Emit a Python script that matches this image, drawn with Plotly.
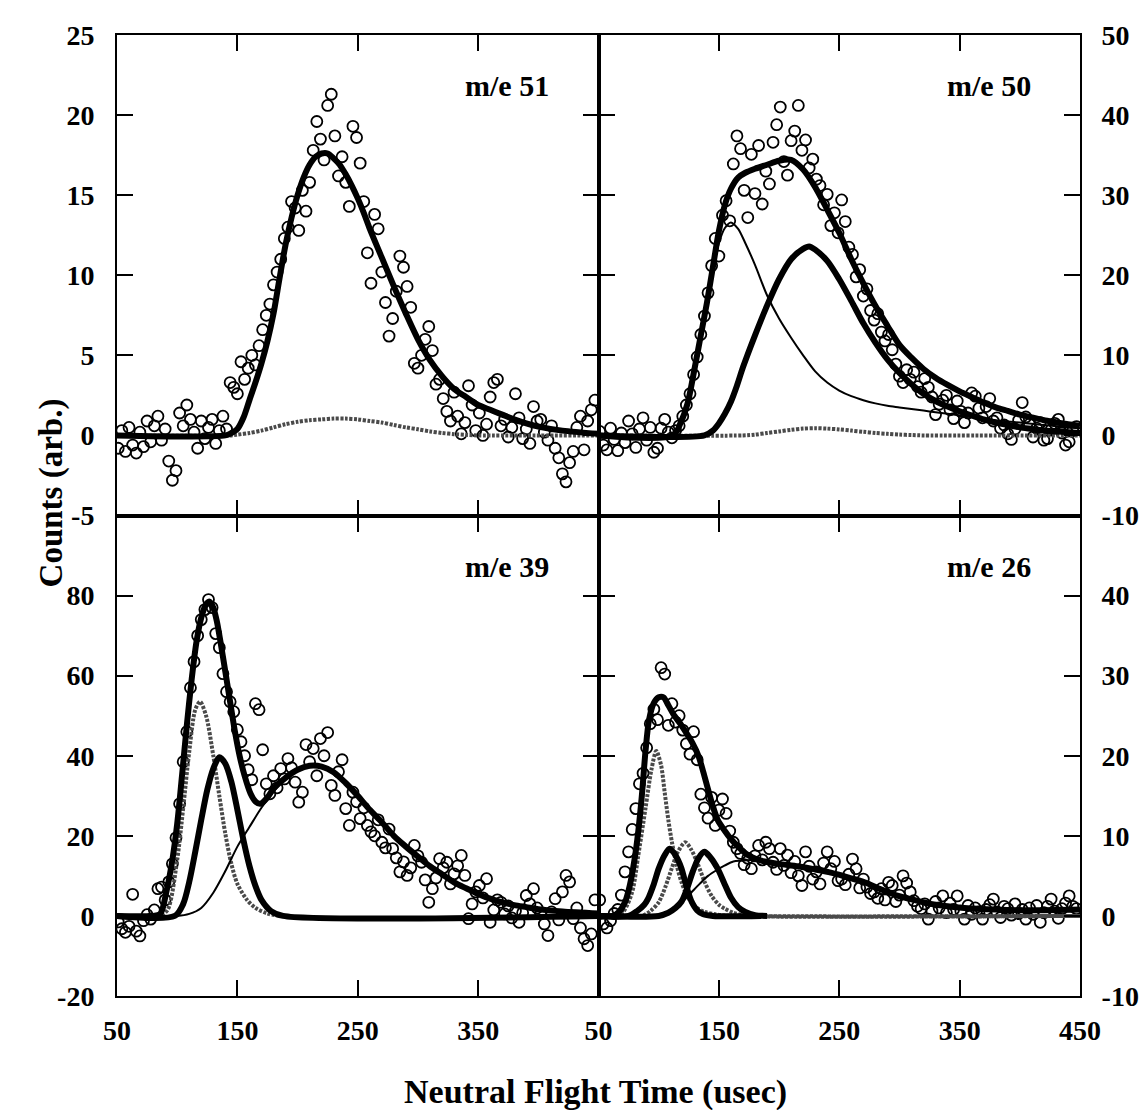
import plotly.graph_objects as go
from plotly.subplots import make_subplots

# measured points, every 3 usec from 51 to 447
time_us = list(range(51, 448, 3))

counts_me51 = [
    -0.8, 0.3, -1.0, 0.5, -0.6, -1.1, 0.2, -0.7, 0.9, -0.4,
    0.6, 1.2, -0.3, 0.4, -1.6, -2.8, -2.2, 1.4, 0.6, 1.9,
    1.0, 0.2, -0.8, 0.9, -0.2, 0.5, 1.0, -0.5, 0.3, 1.2,
    0.4, 3.3, 3.0, 2.6, 4.6, 3.5, 4.2, 5.0, 4.4, 5.6,
    6.6, 7.5, 8.2, 9.4, 10.2, 11.0, 12.3, 13.0, 14.6, 14.2,
    12.8, 15.3, 14.0, 15.8, 17.8, 19.6, 18.5, 17.2, 20.6, 21.3,
    18.7, 16.2, 17.4, 15.8, 14.3, 19.3, 18.6, 17.0, 14.6, 11.4,
    9.5, 13.8, 12.9, 10.2, 8.3, 6.2, 7.3, 9.0, 11.2, 10.5,
    9.3, 8.0, 4.5, 4.2, 5.0, 6.0, 6.8, 5.3, 3.2, 3.5,
    2.3, 1.5, 0.9, 2.7, 1.2, 0.1, 0.8, 3.1, 1.9, 0.3,
    1.4, 0.0, 0.7, 2.4, 3.3, 3.5, 0.6, 1.0, -0.1, 0.5,
    2.6, 1.1, -0.2, 0.4, -0.5, 1.8, 0.9, 1.0, 0.2, -0.3,
    0.6, -0.8, -1.4, -2.4, -2.9, -1.7, -1.0, 0.5, 1.2, -0.9,
    0.9, 1.6, 2.2,
]

counts_me50 = [
    0.5, -1.2, -1.8, 0.9, -0.5, -1.9, 0.3, -0.9, 1.8, 0.2,
    -1.5, 0.8, 2.2, -0.6, 1.0, -2.1, -1.6, 0.9, 2.0, 0.4,
    -0.3, 0.6, 1.2, 2.4, 3.8, 5.2, 7.6, 9.8, 12.6, 14.9,
    17.8, 21.2, 24.6, 22.4, 27.5, 29.3, 26.8, 33.9, 37.4, 35.8,
    30.6, 27.2, 35.1, 30.2, 36.2, 28.9, 33.0, 31.4, 36.6, 38.8,
    41.0, 34.2, 32.5, 36.8, 38.0, 41.2, 35.6, 36.9, 33.4, 34.5,
    32.0, 31.2, 28.8, 30.1, 26.2, 27.8, 25.3, 29.4, 26.7, 23.5,
    22.6, 19.8, 20.7, 17.4, 18.3, 15.6, 14.4, 15.2, 12.9, 11.8,
    12.6, 10.7, 8.9, 7.4, 6.6, 8.2, 7.0, 7.9, 6.1, 5.4,
    7.1, 6.0, 4.8, 2.6, 3.9, 4.4, 5.0, 3.2, 2.1, 4.3,
    3.0, 1.6, 2.8, 5.3, 4.9, 3.4, 2.2, 3.6, 4.6, 1.8,
    2.2, 0.9, 1.3, 0.2, -0.5, 0.8, 1.9, 4.1, 2.3, 1.4,
    -0.2, 0.9, 1.6, -0.6, -0.4, 0.7, 1.5, 2.0, 0.3, -1.2,
    -0.8, 0.6, 1.1,
]

counts_me39 = [
    -1.5, -3.2, -4.1, -2.6, 5.4, -3.8, -5.0, -1.2, 0.3, -0.8,
    1.5, 6.8, 7.2, 4.0, 8.5, 13.0, 19.5, 28.0, 38.5, 46.0,
    57.0, 63.5, 70.0, 74.0, 76.5, 79.0, 77.0, 70.5, 67.0, 60.5,
    56.0, 53.5, 51.0, 46.5, 43.5, 40.0, 36.5, 34.0, 53.0, 51.5,
    41.5, 33.0, 30.5, 35.0, 32.0, 36.8, 34.2, 39.3, 37.0, 33.4,
    28.4, 30.9, 42.8, 38.5, 41.8, 35.0, 44.3, 40.0, 45.8, 32.6,
    30.1, 36.0, 39.0, 26.8, 22.6, 30.9, 28.5, 24.3, 27.0, 22.6,
    21.0, 20.0, 24.0, 18.4, 17.0, 21.7, 16.8, 14.5, 11.0, 13.5,
    10.1, 12.0, 17.6, 15.0, 13.4, 9.0, 3.4, 6.8, 9.5, 14.3,
    12.0, 13.4, 8.0, 10.5, 12.5, 15.1, 10.1, -0.7, 3.0, 6.0,
    7.6, 4.5, 9.3, -1.6, 1.5, 4.0, 3.4, 0.5, 2.5, -0.5,
    1.2, -1.6, 0.8, 5.1, 3.0, 6.8, 2.0, 0.5, -2.0, -4.9,
    1.0, 4.3, -1.0, 6.0, 10.1, 8.5, -0.7, 2.0, -3.0, -5.7,
    -7.4, -4.5, 4.0,
]

counts_me26 = [
    2.0, -1.0, -1.5, -0.6, 0.3, 0.8, 2.6, 5.5, 8.0, 10.8,
    13.4, 16.5, 17.8, 21.0, 24.0, 25.8, 24.5, 31.0, 30.2, 23.8,
    26.5, 24.2, 25.0, 23.2, 21.5, 20.2, 23.0, 19.5, 15.2, 13.5,
    12.2, 14.8, 11.3, 13.2, 14.6, 12.8, 10.6, 9.2, 8.4, 7.8,
    6.4, 7.2, 5.9, 7.5, 8.8, 7.0, 9.2, 8.4, 6.7, 5.8,
    8.4, 6.3, 7.6, 5.4, 6.8, 5.0, 3.8, 8.0, 6.2, 4.6,
    5.5, 4.0, 6.6, 8.0, 5.9, 6.8, 4.4, 4.6, 3.9, 5.2,
    7.1, 5.9, 3.5, 4.6, 3.6, 2.8, 3.0, 2.2, 3.4, 2.0,
    4.2, 3.8, 1.8, 2.6, 5.0, 4.1, 3.0, 1.9, 1.2, 0.9,
    1.5, -0.4, 0.6, 1.8, 1.0, 2.5, 0.4, 1.6, 0.8, 2.5,
    0.6, -0.4, 1.3, 0.2, 1.0, 0.5, -0.4, 0.8, 1.4, 2.1,
    0.5, -0.2, 1.2, 0.9, 0.1, 1.5, 0.3, 0.8, -0.4, 1.0,
    0.2, 1.3, -0.8, 0.4, 1.2, 2.1, 0.6, -0.3, 0.9, 1.6,
    2.5, 1.2, 0.9,
]

fit51_total_t = [50, 140, 145, 150, 155, 160, 165, 170, 175, 180, 185, 190, 195, 200,
                 205, 210, 215, 220, 225, 230, 235, 240, 245, 250, 255, 260, 270, 280,
                 290, 300, 310, 320, 330, 340, 350, 360, 370, 380, 390, 400, 420, 450]
fit51_total = [0, 0, 0.15, 0.4, 1.1, 2.2, 3.3, 4.5, 5.9, 7.6, 9.8, 11.9, 13.6, 15.0,
               16.1, 16.9, 17.4, 17.6, 17.6, 17.3, 16.9, 16.3, 15.6, 14.8, 13.9, 12.9, 11.1, 9.3,
               7.6, 6.0, 4.7, 3.7, 2.9, 2.4, 1.9, 1.6, 1.3, 1.0, 0.75, 0.55, 0.3, 0.1]
fit51_small_t = [50, 145, 150, 160, 170, 180, 190, 200, 210, 220, 230, 240,
                 250, 260, 270, 280, 290, 300, 310, 320, 330, 340, 350, 450]
fit51_small = [0, 0, 0.05, 0.15, 0.3, 0.5, 0.7, 0.85, 0.95, 1.0, 1.05, 1.05,
               1.0, 0.9, 0.8, 0.65, 0.5, 0.38, 0.25, 0.15, 0.08, 0.03, 0, 0]

fit50_total_t = [50, 112, 118, 124, 130, 135, 140, 145, 150, 155, 160, 166, 172, 180,
                 190, 200, 210, 220, 230, 240, 250, 260, 270, 280, 290, 300, 310, 320,
                 330, 340, 350, 360, 370, 380, 390, 400, 410, 420, 430, 440, 450]
fit50_total = [0, 0, 1.5, 4.0, 8.5, 12.5, 16.5, 21.0, 25.5, 28.8, 30.8, 32.2, 32.8, 33.3,
               33.8, 34.3, 34.4, 33.2, 31.0, 28.2, 25.3, 22.0, 19.0, 16.2, 13.7, 11.3, 9.7, 8.3,
               7.2, 6.3, 5.5, 4.8, 4.1, 3.5, 3.05, 2.6, 2.25, 1.9, 1.65, 1.4, 1.2]
fit50_fast = [0, 0, 1.5, 4.0, 8.5, 12.5, 16.4, 20.4, 24.0, 25.9, 26.6, 25.8, 24.0, 21.3,
              17.5, 14.6, 12.2, 10.0, 8.0, 6.6, 5.6, 4.9, 4.4, 4.0, 3.7, 3.5, 3.3, 3.1,
              2.9, 2.7, 2.5, 2.3, 2.1, 1.9, 1.75, 1.6, 1.45, 1.3, 1.15, 1.0, 0.9]
fit50_slow_t = [50, 138, 145, 150, 155, 160, 165, 170, 180, 190, 200, 210, 220, 225,
                230, 240, 250, 260, 270, 280, 290, 300, 310, 320, 330, 340, 350, 360,
                370, 380, 390, 400, 410, 420, 430, 440, 450]
fit50_slow = [0, 0, 0.6, 1.5, 2.7, 4.2, 6.2, 8.5, 12.5, 16.2, 19.5, 22.0, 23.3, 23.6,
              23.2, 21.8, 19.5, 16.8, 14.0, 11.6, 9.5, 7.8, 6.4, 5.2, 4.3, 3.6, 3.0, 2.5,
              2.0, 1.6, 1.3, 1.0, 0.8, 0.6, 0.5, 0.4, 0.3]
fit50_small_t = [50, 170, 180, 190, 200, 210, 220, 230, 240, 250, 260, 270, 280, 290,
                 300, 310, 320, 450]
fit50_small = [0, 0, 0.1, 0.3, 0.5, 0.7, 0.85, 0.9, 0.85, 0.75, 0.6, 0.45, 0.3, 0.2,
               0.1, 0.05, 0, 0]

fit39_total_t = [50, 80, 86, 91, 96, 100, 104, 108, 112, 116, 120, 124, 127, 130, 133,
                 136, 140, 144, 148, 152, 156, 161, 165, 169, 175, 180, 190, 200, 210,
                 220, 230, 240, 250, 260, 270, 280, 290, 300, 310, 320, 330, 340, 350,
                 360, 370, 380, 390, 400, 420, 450]
fit39_total = [0, 0, 0.5, 6, 14, 23, 35, 47.6, 59, 68.4, 74.5, 77.8, 78.5, 77, 73.5,
               68.4, 61, 53.4, 46, 39.8, 35, 30.5, 28.6, 28, 29.6, 31.8, 34.5, 36.5, 37.5,
               37.3, 35.9, 33.2, 30.0, 26.5, 23.4, 20.0, 17.3, 14.8, 12.4, 10.4, 8.4, 6.9, 5.5,
               4.3, 3.4, 2.7, 2.2, 1.7, 1.1, 0.6]
fit39_slow_t = [50, 100, 110, 120, 130, 140, 150, 160, 170, 180, 190, 200, 210, 220,
                230, 240, 250, 260, 270, 280, 290, 300, 310, 320, 330, 340, 350, 360,
                370, 380, 390, 400, 420, 450]
fit39_slow = [0, 0, 0.5, 2.0, 5.8, 11.2, 17.3, 22.2, 27.0, 31.0, 34.3, 36.4, 37.5, 37.3,
              35.9, 33.2, 30.0, 26.5, 23.4, 20.0, 17.3, 14.8, 12.4, 10.4, 8.4, 6.9, 5.5, 4.3,
              3.4, 2.7, 2.2, 1.7, 1.1, 0.6]
fit39_mid_t = [50, 98, 105, 110, 115, 120, 125, 130, 135, 140, 145, 150, 155, 160, 165,
               170, 178, 188, 450]
fit39_mid = [0, 0, 3, 8.5, 16, 24, 31.5, 36.8, 39.6, 38, 33.5, 26.5, 19, 12.5, 7.5,
             4, 1.2, 0, 0]
fit39_fast_t = [50, 85, 92, 100, 105, 110, 115, 119, 124, 130, 135, 140, 145, 150, 158,
                165, 175, 185]
fit39_fast = [0, 0, 1.5, 14, 27, 41, 51.5, 53.5, 50, 40, 30, 20.5, 13, 8, 4,
              2, 0.6, 0]

fit26_total_t = [50, 62, 67, 72, 76, 80, 83, 86, 89, 92, 96, 100, 104, 108, 113, 118,
                 124, 128, 133, 137, 141, 145, 149, 155, 160, 167, 174, 181, 188, 200,
                 216, 230, 243, 260, 271, 285, 299, 312, 326, 340, 354, 380, 409, 450]
fit26_total = [0, 0, 0.5, 1.7, 3.8, 7.1, 10.5, 15.0, 20.5, 24.5, 26.6, 27.3, 27.3, 26.3,
               25.0, 24.0, 22.6, 21.6, 20.0, 18.0, 15.8, 13.7, 12.0, 10.6, 9.6, 8.5, 7.6,
               7.1, 6.8, 6.5, 6.2, 5.8, 5.4, 4.7, 4.2, 3.3, 2.5, 2.0, 1.5, 1.2, 1.0, 0.8,
               0.7, 0.8]
fit26_slow_t = [50, 94, 105, 113, 120, 127, 134, 141, 148, 155, 162, 169, 180, 190, 200,
                216, 230, 243, 260, 271, 285, 299, 312, 326, 340, 354, 380, 409, 450]
fit26_slow = [0, 0, 0.3, 0.9, 1.8, 2.9, 4.0, 5.0, 5.7, 6.3, 6.8, 6.9, 7.0, 6.8, 6.5,
              6.2, 5.8, 5.4, 4.7, 4.2, 3.3, 2.5, 2.0, 1.5, 1.2, 1.0, 0.8, 0.7, 0.8]
fit26_a_t = [50, 65, 71, 78, 83, 89, 94, 98, 102, 105, 108, 111, 115, 119, 124, 130,
             138, 147, 160, 450]
fit26_a = [0, 0, 0.6, 3.0, 7.5, 13.4, 18.3, 20.6, 18.8, 15.4, 12.0, 9.2, 6.3, 4.2, 2.4,
           1.2, 0.5, 0.2, 0, 0]
fit26_b_t = [50, 75, 82, 88, 91, 96, 100, 105, 109, 113, 116, 119, 123, 127, 132, 137,
             145, 185]
fit26_b = [0, 0, 0.6, 1.4, 2.1, 4.0, 5.9, 7.6, 8.4, 7.8, 7.0, 5.9, 3.7, 1.9, 0.7, 0.2,
           0, 0]
fit26_c_t = [50, 86, 93, 100, 106, 111, 116, 122, 127, 133, 138, 144, 150, 155, 162,
             170, 180, 450]
fit26_c = [0, 0, 0.6, 1.7, 3.8, 6.0, 8.0, 9.2, 8.3, 6.3, 4.3, 2.5, 1.4, 0.9, 0.4,
           0.1, 0, 0]
fit26_d_t = [50, 100, 108, 114, 119, 124, 128, 133, 138, 143, 149, 155, 160, 166, 172,
             180, 190]
fit26_d = [0, 0, 0.4, 1.0, 1.8, 3.6, 5.4, 7.2, 8.0, 7.3, 5.9, 3.9, 2.3, 1.1, 0.5,
           0.1, 0]

panel_labels = ["m/e 51", "m/e 50", "m/e 39", "m/e 26"]
x_ticks = [50, 150, 250, 350, 450]
y_ticks_tl = [-5, 0, 5, 10, 15, 20, 25]
y_ticks_bl = [-20, 0, 20, 40, 60, 80]
y_ticks_tr = [-10, 0, 10, 20, 30, 40, 50]
y_ticks_br = [-10, 0, 10, 20, 30, 40]

FONT = "Liberation Serif"
THICK = dict(color="black", width=6)
THIN = dict(color="black", width=2)
DOTTED = dict(color="#4a4a4a", width=4, dash="3px,1.5px")

panels = [
    (1, 1, counts_me51, [
        (fit51_small_t, fit51_small, DOTTED),
        (fit51_total_t, fit51_total, THICK),
    ]),
    (1, 2, counts_me50, [
        (fit50_small_t, fit50_small, DOTTED),
        (fit50_total_t, fit50_fast, THIN),
        (fit50_slow_t, fit50_slow, THICK),
        (fit50_total_t, fit50_total, THICK),
    ]),
    (2, 1, counts_me39, [
        (fit39_fast_t, fit39_fast, DOTTED),
        (fit39_slow_t, fit39_slow, THIN),
        (fit39_mid_t, fit39_mid, THICK),
        (fit39_total_t, fit39_total, THICK),
    ]),
    (2, 2, counts_me26, [
        (fit26_a_t, fit26_a, DOTTED),
        (fit26_c_t, fit26_c, DOTTED),
        (fit26_slow_t, fit26_slow, THIN),
        (fit26_b_t, fit26_b, THICK),
        (fit26_d_t, fit26_d, THICK),
        (fit26_total_t, fit26_total, THICK),
    ]),
]

fig = make_subplots(rows=2, cols=2, horizontal_spacing=0, vertical_spacing=0)

for row, col, counts, curves in panels:
    fig.add_trace(
        go.Scatter(
            x=time_us, y=counts, mode="markers",
            marker=dict(symbol="circle-open", size=11, color="black",
                        line=dict(width=1.8, color="black")),
        ),
        row=row, col=col,
    )
    for t, v, style in curves:
        fig.add_trace(
            go.Scatter(x=t, y=v, mode="lines", line=dict(shape="spline", smoothing=0.8, **style)),
            row=row, col=col,
        )

tick_font = dict(family=FONT, size=28, color="black", weight="bold")
axis_common = dict(
    ticks="inside", ticklen=16, tickwidth=2, tickcolor="black",
    showline=True, linewidth=2, linecolor="black", mirror="allticks",
    showgrid=False, zeroline=False, tickfont=tick_font, automargin=False,
)

for row in (1, 2):
    for col in (1, 2):
        fig.update_xaxes(range=[50, 450], tickvals=x_ticks, ticklabelstandoff=8,
                         showticklabels=(row == 2), row=row, col=col, **axis_common)
fig.update_xaxes(ticktext=["50", "150", "250", "350", ""], row=2, col=1)
fig.update_xaxes(ticktext=["50", "150", "250", "350", "450"], row=2, col=2)

# plain hyphen for negative labels, as in the original
def labels(vals):
    return [str(v) for v in vals]

fig.update_yaxes(range=[-5, 25], tickvals=y_ticks_tl, ticktext=labels(y_ticks_tl),
                 ticklabelstandoff=15, row=1, col=1, **axis_common)
fig.update_yaxes(range=[-20, 100], tickvals=y_ticks_bl, ticktext=labels(y_ticks_bl),
                 ticklabelstandoff=15, row=2, col=1, **axis_common)
fig.update_yaxes(range=[-10, 50], tickvals=y_ticks_tr, ticktext=labels(y_ticks_tr),
                 side="right", ticklabelstandoff=14, row=1, col=2, **axis_common)
fig.update_yaxes(range=[-10, 50], tickvals=y_ticks_br, ticktext=labels(y_ticks_br),
                 side="right", ticklabelstandoff=14, row=2, col=2, **axis_common)

label_font = dict(family=FONT, size=30, color="black", weight="bold")
for i, label in enumerate(panel_labels):
    fig.add_annotation(
        text=label, xref=f"x{i + 1 if i else ''} domain", yref=f"y{i + 1 if i else ''} domain",
        x=0.81, y=0.894, xanchor="center", yanchor="middle",
        showarrow=False, font=label_font,
    )

fig.add_annotation(text="Counts (arb.)", xref="paper", yref="paper", x=-0.0685, y=0.523,
                   xanchor="center", yanchor="middle", textangle=-90, showarrow=False,
                   font=dict(family=FONT, size=33, color="black", weight="bold"))
fig.add_annotation(text="Neutral Flight Time (usec)", xref="paper", yref="paper",
                   x=0.497, y=-0.1, xanchor="center", yanchor="middle", showarrow=False,
                   font=dict(family=FONT, size=34, color="black", weight="bold"))

# the page body adds 8px around the plot, so the figure is a little smaller
# than the window and the margins are shifted to keep the frame in place
fig.update_layout(
    width=1132, height=1102,
    margin=dict(l=109, r=60, t=27, b=114),
    showlegend=False,
    plot_bgcolor="white", paper_bgcolor="white",
)

fig.write_html("out.html")
